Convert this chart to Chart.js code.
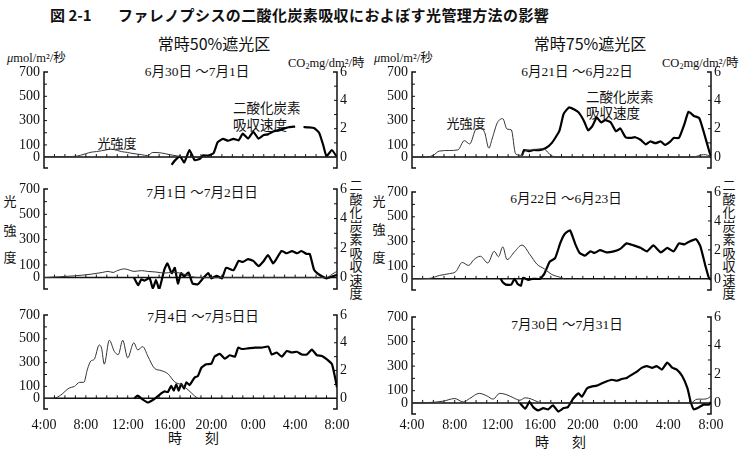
<!DOCTYPE html>
<html>
<head>
<meta charset="utf-8">
<script src="https://cdn.jsdelivr.net/npm/chart.js@4.4.1/dist/chart.umd.min.js"></script>
<style>
  body { margin: 0; background: #fff; width: 748px; height: 454px; position: relative; overflow: hidden;
         font-family: "Liberation Serif", "Times New Roman", "DejaVu Serif", "Noto Sans CJK JP", serif; color: #111; }
  canvas { position: absolute; }
  .t { position: absolute; white-space: nowrap; line-height: 1; }
  .c { position: absolute; white-space: nowrap; line-height: 1; transform: translate(-50%, -50%); }
  .jp { font-family: "Noto Sans CJK JP", sans-serif; }
  .b { font-family: "Noto Sans CJK JP", sans-serif; font-weight: 700; font-size: 15px; }
  .v { position: absolute; writing-mode: vertical-rl; line-height: 1; font-family: "Noto Sans CJK JP", sans-serif;
       font-size: 13px; letter-spacing: 0.5px; transform: translateX(-50%); }
  sub { font-size: 8px; vertical-align: -2px; }
</style>
</head>
<body>

<!-- --- TITLES --- -->
<div class="t b" style="left:50px;top:7px">図 2-1</div>
<div class="t b" style="left:118px;top:7px;letter-spacing:0.4px">ファレノプシスの二酸化炭素吸収におよぼす光管理方法の影響</div>
<div class="c jp" style="left:214px;top:43px;font-size:16px">常時50%遮光区</div>
<div class="c jp" style="left:590px;top:43px;font-size:16px">常時75%遮光区</div>

<!-- --- UNITS --- -->
<div class="t" style="left:7px;top:52px;font-size:12.5px"><i>μ</i>mol/m²/秒</div>
<div class="t" style="left:374px;top:52px;font-size:12.5px"><i>μ</i>mol/m²/秒</div>
<div class="t" style="left:288px;top:57px;font-size:12.5px">CO<sub>2</sub>mg/dm²/時</div>
<div class="t" style="left:662px;top:57px;font-size:12.5px">CO<sub>2</sub>mg/dm²/時</div>

<!-- --- DATE LABELS --- -->
<div class="c" style="left:197px;top:72px;font-size:13.5px">6月30日 ～7月1日</div>
<div class="c" style="left:577px;top:72px;font-size:13.5px">6月21日 ～6月22日</div>
<div class="c" style="left:202px;top:193px;font-size:13.5px">7月1日 ～7月2日日</div>
<div class="c" style="left:566px;top:199px;font-size:13.5px">6月22日 ～6月23日</div>
<div class="c" style="left:203px;top:317px;font-size:13.5px">7月4日 ～7月5日日</div>
<div class="c" style="left:567px;top:325px;font-size:13.5px">7月30日 ～7月31日</div>

<!-- --- CURVE NOTES --- -->
<div class="c jp" style="left:117px;top:142px;font-size:13px">光強度</div>
<div class="t jp" style="left:233px;top:101px;font-size:13.5px">二酸化炭素</div>
<div class="t jp" style="left:233px;top:118px;font-size:13.5px">吸収速度</div>
<div class="c jp" style="left:466px;top:122px;font-size:13px">光強度</div>
<div class="t jp" style="left:586px;top:90px;font-size:13.5px">二酸化炭素</div>
<div class="t jp" style="left:586px;top:106px;font-size:13.5px">吸収速度</div>

<!-- --- AXIS NAMES --- -->
<div class="c jp" style="left:10px;top:200px;font-size:13px">光</div>
<div class="c jp" style="left:10px;top:229px;font-size:13px">強</div>
<div class="c jp" style="left:10px;top:256px;font-size:13px">度</div>
<div class="c jp" style="left:379px;top:200px;font-size:13px">光</div>
<div class="c jp" style="left:379px;top:228px;font-size:13px">強</div>
<div class="c jp" style="left:379px;top:256px;font-size:13px">度</div>
<div class="v" style="left:356px;top:179px">二酸化炭素吸収速度</div>
<div class="v" style="left:729px;top:179px">二酸化炭素吸収速度</div>
<div class="c jp" style="left:175px;top:437px;font-size:14px">時</div>
<div class="c jp" style="left:212px;top:437px;font-size:14px">刻</div>
<div class="c jp" style="left:542px;top:441px;font-size:14px">時</div>
<div class="c jp" style="left:579px;top:441px;font-size:14px">刻</div>

<canvas id="c1"></canvas>
<canvas id="c2"></canvas>
<canvas id="c3"></canvas>
<canvas id="c4"></canvas>
<canvas id="c5"></canvas>
<canvas id="c6"></canvas>

<script>
// --- AXIS TICKS ---
const xTickHours = [4, 8, 12, 16, 20, 24, 28, 32];
const xTickLabels = ['4:00', '8:00', '12:00', '16:00', '20:00', '0:00', '4:00', '8:00'];
const leftTickLabels = [0, 100, 300, 500, 700];
const rightTickLabels = [0, 2, 4, 6];
const leftTickMarks = [100, 200, 300, 400, 500, 600];
const rightTickMarks = [1, 2, 3, 4, 5];
const hourMarks = [5, 6, 7, 8, 9, 10, 11, 12, 13, 14, 15, 16, 17, 18, 19, 20, 21, 22, 23, 24, 25, 26, 27, 28, 29, 30, 31];

// --- DATA (hours counted from 0:00 of the first day; light in μmol/m²/s, CO2 in mg/dm²/h) ---
// 6/30 - 7/1, 50% shade
const p1LightHours = [4, 6, 7, 7.5, 8, 8.5, 9, 9.5, 10, 10.4, 11, 11.4, 12, 12.3, 13.3, 13.9, 14.4, 15.2, 16, 16.8, 17.8, 32];
const p1Light = [3, 4, 6, 15, 28, 40, 45, 52, 60, 65, 55, 45, 38, 32, 20, 12, 38, 34, 20, 8, 0, 0];
const p1Co2Hours = [16.2, 16.5, 17, 17.4, 17.9, 18.4, 18.9, 19.2, 19.7, 20.2, 20.6, 21.1, 21.6, 22.1, 22.6, 23.0, 23.5, 24.0, 24.5, 25.0, 25.4, 25.9, 26.4, 26.9, 27.4, 28.0, 28.4, 28.8, 29.3, 29.8, 30.3, 30.7, 31.0, 31.5, 32];
const p1Co2 = [-0.55, -0.25, 0.05, -0.38, 0.5, -0.22, -0.12, 0.12, 0.1, 0.28, 1.05, 1.28, 1.15, 1.28, 1.18, 1.65, 1.3, 1.78, 1.3, 1.55, 1.6, 1.8, 1.9, 2.0, 2.1, 2.15, null, 2.12, 2.1, 2.05, 1.7, 0.8, 0.05, 0.5, 0];

// 6/21 - 6/22, 75% shade
const p2LightHours = [4, 5.5, 6, 6.55, 7.5, 8.3, 8.9, 9.4, 10, 10.4, 10.8, 11.2, 11.5, 12, 12.5, 12.9, 13.3, 13.7, 14.2, 14.65, 15.3, 16, 16.5, 17, 17.8, 30.3, 30.8, 31.3, 31.7, 32];
const p2Light = [0, 2, 15, 49, 54, 59, 135, 108, 230, 238, 203, 73, 149, 284, 316, 230, 224, 27, 14, 54, 59, 68, 59, 14, 0, 0, 10, 20, 15, 0];
const p2Co2Hours = [14.3, 14.5, 15, 15.4, 15.9, 16.5, 17.1, 17.8, 18.2, 18.7, 19.2, 19.6, 20.1, 20.5, 20.9, 21.3, 21.7, 22.1, 22.6, 23.1, 23.5, 24, 24.5, 24.9, 25.4, 25.9, 26.3, 26.8, 27.3, 27.7, 28.2, 28.5, 29, 29.5, 29.9, 30.4, 30.9, 31.3, 31.8, 32];
const p2Co2 = [0.1, 0.5, 0.42, 0.5, 0.48, 0.62, 1.0, 1.85, 3.05, 3.5, 3.35, 3.15, 2.55, 1.88, 2.2, 2.8, 2.45, 2.6, 2.45, 1.82, 2.02, 1.4, 1.35, 1.4, 1.22, 0.9, 1.1, 0.98, 1.1, 0.85, 1.1, 1.35, 1.35, 2.3, 3.2, 2.9, 2.75, 1.82, 0.5, 0];

// 7/1 - 7/2, 50% shade
const p3LightHours = [4, 6.9, 8.5, 9.6, 10.1, 10.6, 11, 11.7, 12.2, 12.6, 13.3, 13.9, 14.7, 15.5, 16.3, 17.1, 18.1, 18.7, 31, 31.5, 32];
const p3Light = [0, 14, 27, 41, 49, 41, 55, 69, 58, 49, 55, 49, 44, 36, 42, 34, 8, 0, 0, 25, 50];
const p3Co2Hours = [12.6, 13, 13.3, 13.6, 14.1, 14.4, 14.7, 15, 15.5, 15.8, 16.2, 16.5, 16.8, 17.1, 17.4, 17.8, 18.2, 18.7, 19.2, 19.7, 20, 20.5, 21, 21.4, 22.1, 22.6, 23, 23.5, 24, 24.5, 25, 25.4, 25.9, 26.2, 26.7, 27.2, 27.7, 28.2, 28.6, 29.1, 29.4, 29.8, 30.1, 30.6, 31, 31.5, 32];
const p3Co2 = [0, -0.52, -0.12, -0.2, -0.05, -0.75, -0.16, -0.8, 0.54, 0.96, 0.3, 0.66, -0.4, 0.3, 0.07, 0.35, -0.4, -0.45, -0.05, 0.3, -0.05, 0.12, -0.05, 0.66, 0.5, 1.13, 1.06, 1.25, 1.13, 0.78, 1.13, 1.53, 0.96, 1.25, 1.8, 1.65, 1.8, 1.65, 1.8, 1.6, 1.6, 0.54, 0.3, 0.07, -0.05, 0.07, 0.19];

// 6/22 - 6/23, 75% shade
const p4LightHours = [4, 5.6, 6.6, 7.5, 8.1, 8.7, 9.3, 9.8, 10.4, 11.1, 11.7, 12.1, 12.5, 12.9, 13.6, 14.3, 15.05, 15.7, 16.4, 17.1, 17.9, 18.3];
const p4Light = [0, 3, 28, 42, 58, 132, 108, 155, 182, 128, 222, 178, 258, 155, 218, 272, 195, 118, 80, 35, 12, 0];
const p4Co2Hours = [12.3, 12.5, 12.8, 13.3, 13.6, 13.9, 14.2, 14.4, 14.9, 15.3, 16, 16.4, 16.9, 17.4, 17.9, 18.3, 18.8, 19.3, 19.7, 20.2, 20.7, 21.1, 21.6, 22.2, 22.9, 23.5, 24.1, 24.75, 25.4, 26, 26.6, 27.3, 27.9, 28.5, 29, 29.5, 29.9, 30.6, 31, 31.5, 31.8, 32];
const p4Co2 = [0, -0.24, -0.4, -0.4, 0, -0.36, -0.48, 0.07, -0.07, 0, 0, 0.36, 1.19, 1.43, 2.5, 3.1, 3.35, 2.38, 1.79, 1.6, 1.9, 1.79, 1.98, 1.83, 1.9, 2.07, 2.45, 2.31, 2.14, 1.9, 2.31, 1.83, 2.14, 1.9, 2.45, 2.38, 2.55, 2.74, 2.26, 0.83, 0.07, -0.07];

// 7/4 - 7/5, 50% shade
const p5LightHours = [4, 5, 5.6, 6.4, 6.9, 7.4, 7.8, 8.16, 8.48, 8.8, 9.28, 9.5, 9.76, 10.24, 10.72, 11.1, 11.52, 12, 12.58, 12.96, 13.44, 13.92, 14.56, 15.2, 15.84, 16.48, 17.12, 17.76, 18.4, 18.7];
const p5Light = [0, 2, 27, 86, 99, 134, 134, 247, 314, 327, 448, 421, 287, 488, 394, 367, 488, 340, 466, 407, 434, 354, 252, 233, 206, 139, 113, 72, 19, 0];
const p5Co2Hours = [12.64, 12.96, 13.28, 13.92, 14.24, 14.72, 15.2, 15.52, 15.84, 16.16, 16.4, 16.64, 16.86, 17.12, 17.38, 17.6, 17.9, 18.4, 18.7, 19.04, 19.5, 20, 20.3, 20.8, 21.28, 21.76, 22.24, 22.56, 22.88, 23.52, 24.16, 24.8, 25.44, 25.76, 26.24, 26.72, 27.2, 27.68, 28.16, 28.64, 29.12, 29.6, 30.08, 30.56, 31.04, 31.52, 31.84, 32];
const p5Co2 = [0, 0.2, 0, -0.3, -0.2, 0.05, 0.35, 0.5, 0.45, 0.9, 0.55, 1.0, 0.55, 1.05, 0.7, 1.15, 0.95, 1.5, 1.6, 2.2, 2.45, 2.5, 3.0, 3.2, 2.85, 3.1, 3.0, 3.65, 3.55, 3.6, 3.65, 3.65, 3.72, 3.15, 3.3, 3.0, 3.4, 3.3, 3.35, 3.15, 3.15, 3.5, 3.1, 3.05, 2.8, 2.45, 1.4, 0.8];

// 7/30 - 7/31, 75% shade
const p6LightHours = [4, 5.5, 6.9, 8, 8.8, 9.4, 10.3, 11, 11.6, 12.2, 12.8, 13.5, 14.1, 14.6, 15.2, 15.8, 16.3, 30.1, 30.7, 31.3, 31.8, 32];
const p6Light = [0, 3, 14, 36, 8, 36, 78, 58, 31, 78, 69, 42, 22, 42, 31, 8, 0, 0, 31, 31, 42, 58];
const p6Co2Hours = [14.1, 14.6, 15, 15.35, 15.8, 16.3, 16.75, 17.2, 17.7, 18.2, 18.6, 19.1, 19.6, 19.9, 20.4, 20.8, 21.3, 21.8, 22.2, 22.7, 23.2, 23.7, 24.1, 24.6, 25.1, 25.5, 26, 26.5, 26.9, 27.4, 27.9, 28.4, 28.8, 29.3, 29.8, 30.1, 30.4, 30.9, 31.3, 31.8, 32];
const p6Co2 = [0, -0.4, 0.07, -0.29, -0.52, -0.36, -0.45, -0.17, -0.6, -0.36, -0.29, 0.31, 0.67, 0.43, 1.02, 1.14, 1.21, 1.38, 1.5, 1.62, 1.55, 1.69, 1.74, 1.98, 2.21, 2.45, 2.57, 2.45, 2.57, 2.33, 2.81, 2.45, 2.33, 1.88, 1.02, 0.07, -0.45, -0.29, -0.12, -0.12, 0.07];

// --- LAYOUT (chart area top / bottom in page pixels) ---
const panels = [
  { id: 'c1', col: 0, top: 72,  bottom: 168, light: [p1LightHours, p1Light], co2: [p1Co2Hours, p1Co2], xLabels: false },
  { id: 'c2', col: 1, top: 72,  bottom: 168, light: [p2LightHours, p2Light], co2: [p2Co2Hours, p2Co2], xLabels: false },
  { id: 'c3', col: 0, top: 189, bottom: 289, light: [p3LightHours, p3Light], co2: [p3Co2Hours, p3Co2], xLabels: false },
  { id: 'c4', col: 1, top: 192, bottom: 290, light: [p4LightHours, p4Light], co2: [p4Co2Hours, p4Co2], xLabels: false },
  { id: 'c5', col: 0, top: 315, bottom: 409, light: [p5LightHours, p5Light], co2: [p5Co2Hours, p5Co2], xLabels: true },
  { id: 'c6', col: 1, top: 317, bottom: 414, light: [p6LightHours, p6Light], co2: [p6Co2Hours, p6Co2], xLabels: true }
];

const LEFT_MIN = -90;
const LEFT_MAX = 700;
const RIGHT_MAX = 6;
const RIGHT_MIN = LEFT_MIN * RIGHT_MAX / LEFT_MAX; // keep both zeros on one line

Chart.defaults.font.family = "'Liberation Serif', 'Times New Roman', 'DejaVu Serif', serif";
Chart.defaults.font.size = 14;
Chart.defaults.color = '#111';

function pts(hours, vals) {
  return hours.map((h, i) => ({ x: h, y: vals[i] }));
}

// brackets, zero line and small inward tick marks
const framePlugin = {
  id: 'frame',
  beforeDatasetsDraw(chart) {
    const { ctx, chartArea: a, scales: { x, y, y2 } } = chart;
    const y0 = y.getPixelForValue(0);
    ctx.save();
    ctx.strokeStyle = '#111';
    ctx.lineWidth = 1.5;
    ctx.beginPath();
    ctx.moveTo(a.left + 4, a.top); ctx.lineTo(a.left, a.top);
    ctx.lineTo(a.left, a.bottom); ctx.lineTo(a.left + 4, a.bottom);
    ctx.moveTo(a.right - 4, a.top); ctx.lineTo(a.right, a.top);
    ctx.lineTo(a.right, a.bottom); ctx.lineTo(a.right - 4, a.bottom);
    ctx.moveTo(a.left, y0); ctx.lineTo(a.right, y0);
    ctx.stroke();

    ctx.lineWidth = 1;
    ctx.beginPath();
    leftTickMarks.forEach(v => {
      const py = y.getPixelForValue(v);
      ctx.moveTo(a.left, py); ctx.lineTo(a.left + 3, py);
    });
    rightTickMarks.forEach(v => {
      const py = y2.getPixelForValue(v);
      ctx.moveTo(a.right, py); ctx.lineTo(a.right - 3, py);
    });
    hourMarks.forEach(h => {
      const px = x.getPixelForValue(h);
      ctx.moveTo(px, y0); ctx.lineTo(px, y0 - 3);
    });
    ctx.stroke();
    ctx.restore();
  }
};

panels.forEach(cfg => {
  const cv = document.getElementById(cfg.id);
  const canvasTop = cfg.top - 13;
  const xh = cfg.xLabels ? 26 : 0;
  const padBottom = cfg.xLabels ? 2 : 13;
  cv.width = 374;
  cv.height = cfg.bottom - canvasTop + xh + padBottom;
  cv.style.left = (cfg.col * 374) + 'px';
  cv.style.top = canvasTop + 'px';

  new Chart(cv, {
    type: 'line',
    data: {
      datasets: [
        {
          data: pts(cfg.light[0], cfg.light[1]),
          yAxisID: 'y',
          borderColor: '#333',
          borderWidth: 1,
          pointRadius: 0,
          tension: 0.3,
          cubicInterpolationMode: 'monotone'
        },
        {
          data: pts(cfg.co2[0], cfg.co2[1]),
          yAxisID: 'y2',
          borderColor: '#000',
          borderWidth: 2.2,
          pointRadius: 0,
          tension: 0.15,
          spanGaps: false
        }
      ]
    },
    options: {
      responsive: false,
      animation: false,
      events: [],
      layout: { padding: { top: 13, bottom: padBottom, left: 0, right: 0 } },
      plugins: { legend: { display: false }, tooltip: { enabled: false } },
      scales: {
        x: {
          type: 'linear',
          min: 4,
          max: 32,
          display: cfg.xLabels,
          grid: { display: false, drawTicks: false },
          border: { display: false },
          afterBuildTicks: s => { s.ticks = xTickHours.map(v => ({ value: v })); },
          afterFit: s => { s.height = xh; },
          ticks: {
            padding: 425 - 8 - cfg.bottom,
            autoSkip: false,
            maxRotation: 0,
            callback: (v, i) => xTickLabels[i]
          }
        },
        y: {
          position: 'left',
          min: LEFT_MIN,
          max: LEFT_MAX,
          grid: { display: false, drawTicks: false },
          border: { display: false },
          afterBuildTicks: s => { s.ticks = leftTickLabels.map(v => ({ value: v })); },
          afterFit: s => { s.width = cfg.col ? 38 : 44; },
          ticks: { padding: 4, callback: v => String(v) }
        },
        y2: {
          position: 'right',
          min: RIGHT_MIN,
          max: RIGHT_MAX,
          grid: { display: false, drawTicks: false },
          border: { display: false },
          afterBuildTicks: s => { s.ticks = rightTickLabels.map(v => ({ value: v })); },
          afterFit: s => { s.width = 37; },
          ticks: { padding: 3, callback: v => String(v) }
        }
      }
    },
    plugins: [framePlugin]
  });
});
</script>
</body>
</html>
